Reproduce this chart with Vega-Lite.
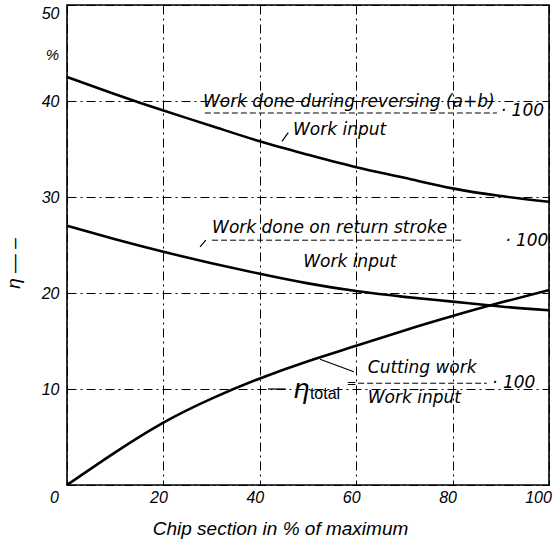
{
  "$schema": "https://vega.github.io/schema/vega-lite/v6.json",
  "autosize": {"type": "none"},
  "width": 482,
  "height": 480,
  "padding": {"left": 67, "top": 5, "right": 5, "bottom": 58},
  "background": "white",
  "config": {
    "view": {"stroke": "black", "strokeWidth": 1.6},
    "font": "Liberation Sans",
    "text": {"font": "DejaVu Sans", "fontStyle": "italic", "color": "black"}
  },
  "datasets": {
    "curves": [
      {"x": 0, "y": 42.5, "series": "reversing"},
      {"x": 10, "y": 40.7, "series": "reversing"},
      {"x": 20, "y": 39.0, "series": "reversing"},
      {"x": 30, "y": 37.4, "series": "reversing"},
      {"x": 40, "y": 35.8, "series": "reversing"},
      {"x": 50, "y": 34.4, "series": "reversing"},
      {"x": 60, "y": 33.1, "series": "reversing"},
      {"x": 70, "y": 32.0, "series": "reversing"},
      {"x": 80, "y": 30.9, "series": "reversing"},
      {"x": 90, "y": 30.1, "series": "reversing"},
      {"x": 100, "y": 29.5, "series": "reversing"},
      {"x": 0, "y": 27.0, "series": "return"},
      {"x": 10, "y": 25.6, "series": "return"},
      {"x": 20, "y": 24.3, "series": "return"},
      {"x": 30, "y": 23.1, "series": "return"},
      {"x": 40, "y": 22.0, "series": "return"},
      {"x": 50, "y": 21.0, "series": "return"},
      {"x": 60, "y": 20.2, "series": "return"},
      {"x": 70, "y": 19.6, "series": "return"},
      {"x": 80, "y": 19.1, "series": "return"},
      {"x": 90, "y": 18.6, "series": "return"},
      {"x": 100, "y": 18.2, "series": "return"},
      {"x": 0, "y": 0.0, "series": "total"},
      {"x": 10, "y": 3.4, "series": "total"},
      {"x": 20, "y": 6.5, "series": "total"},
      {"x": 30, "y": 9.0, "series": "total"},
      {"x": 40, "y": 11.1, "series": "total"},
      {"x": 50, "y": 12.9, "series": "total"},
      {"x": 60, "y": 14.5, "series": "total"},
      {"x": 70, "y": 16.1, "series": "total"},
      {"x": 80, "y": 17.6, "series": "total"},
      {"x": 90, "y": 19.0, "series": "total"},
      {"x": 100, "y": 20.3, "series": "total"}
    ],
    "fractions": [
      {"x": 28.6, "x2": 89.2, "y": 38.75},
      {"x": 30.1, "x2": 82.0, "y": 25.5},
      {"x": 60.4, "x2": 87.1, "y": 10.6}
    ],
    "leaders": [
      {"x": 44.6, "x2": 45.9, "y": 35.8, "y2": 36.7},
      {"x": 27.6, "x2": 28.8, "y": 24.8, "y2": 25.5},
      {"x": 41.7, "x2": 45.4, "y": 10.0, "y2": 10.0},
      {"x": 52.5, "x2": 59.5, "y": 13.1, "y2": 11.8}
    ],
    "notes": [
      {"x": 28.2, "y": 39.9, "label": "Work done during reversing (a+b)"},
      {"x": 90.0, "y": 39.0, "label": "· 100"},
      {"x": 46.9, "y": 37.0, "label": "Work input"},
      {"x": 30.1, "y": 26.8, "label": "Work done on return stroke"},
      {"x": 90.9, "y": 25.4, "label": "· 100"},
      {"x": 49.0, "y": 23.2, "label": "Work input"},
      {"x": 62.4, "y": 12.2, "label": "Cutting work"},
      {"x": 62.4, "y": 9.1, "label": "Work input"},
      {"x": 88.2, "y": 10.6, "label": "· 100"}
    ],
    "eta": [{"x": 46.9, "y": 9.9, "label": "η"}],
    "sub": [{"x": 50.4, "y": 9.5, "label": "total"}],
    "eq": [{"x": 58.0, "y": 10.6, "label": "="}],
    "pct": [{"x": -3.0, "y": 44.8, "label": "%"}]
  },
  "layer": [
    {
      "data": {"name": "curves"},
      "mark": {"type": "line", "color": "black", "strokeWidth": 2.6, "interpolate": "natural"},
      "encoding": {
        "x": {
          "field": "x", "type": "quantitative",
          "scale": {"domain": [0, 100], "nice": false},
          "axis": {
            "values": [0, 20, 40, 60, 80, 100],
            "title": "Chip section in % of maximum",
            "titleFont": "Liberation Sans", "titleFontStyle": "italic", "titleFontWeight": "normal",
            "titleFontSize": 19, "titleColor": "black",
            "titleX": 213, "titleY": 43, "titleBaseline": "middle", "titleAlign": "center",
            "labelFont": "Liberation Sans", "labelFontStyle": "italic", "labelFontSize": 16,
            "labelColor": "black", "labelPadding": 4, "labelFlush": false,
            "labelOffset": {"expr": "datum.value == 0 ? -13 : datum.value == 100 ? -11 : -5"},
            "ticks": false, "domain": false,
            "grid": true, "gridColor": "black", "gridOpacity": 1, "gridWidth": 1,
            "gridDash": [9, 4, 2, 4]
          }
        },
        "y": {
          "field": "y", "type": "quantitative",
          "scale": {"domain": [0, 50], "nice": false},
          "axis": {
            "values": [0, 10, 20, 30, 40, 50],
            "labelExpr": "datum.value == 0 ? '' : datum.label",
            "title": "η — –",
            "titleFont": "Liberation Sans", "titleFontStyle": "italic", "titleFontWeight": "normal",
            "titleFontSize": 19, "titleColor": "black",
            "titleX": -54, "titleY": 258, "titleBaseline": "middle", "titleAlign": "center", "titleAngle": -90,
            "labelFont": "Liberation Sans", "labelFontStyle": "italic", "labelFontSize": 16,
            "labelColor": "black", "labelPadding": 8, "labelFlush": false,
            "labelBaseline": {"expr": "datum.value == 50 ? 'top' : 'middle'"},
            "ticks": false, "domain": false,
            "grid": true, "gridColor": "black", "gridOpacity": 1, "gridWidth": 1,
            "gridDash": [9, 4, 2, 4]
          }
        },
        "detail": {"field": "series"}
      }
    },
    {
      "data": {"name": "fractions"},
      "mark": {"type": "rule", "color": "black", "strokeWidth": 1, "strokeDash": [6, 3]},
      "encoding": {
        "x": {"field": "x", "type": "quantitative"},
        "x2": {"field": "x2"},
        "y": {"field": "y", "type": "quantitative"}
      }
    },
    {
      "data": {"name": "leaders"},
      "mark": {"type": "rule", "color": "black", "strokeWidth": 1.2},
      "encoding": {
        "x": {"field": "x", "type": "quantitative"},
        "x2": {"field": "x2"},
        "y": {"field": "y", "type": "quantitative"},
        "y2": {"field": "y2"}
      }
    },
    {
      "data": {"name": "notes"},
      "mark": {"type": "text", "align": "left", "baseline": "middle", "fontSize": 17},
      "encoding": {
        "x": {"field": "x", "type": "quantitative"},
        "y": {"field": "y", "type": "quantitative"},
        "text": {"field": "label"}
      }
    },
    {
      "data": {"name": "eta"},
      "mark": {"type": "text", "align": "left", "baseline": "middle", "fontSize": 26},
      "encoding": {
        "x": {"field": "x", "type": "quantitative"},
        "y": {"field": "y", "type": "quantitative"},
        "text": {"field": "label"}
      }
    },
    {
      "data": {"name": "sub"},
      "mark": {"type": "text", "align": "left", "baseline": "middle", "fontSize": 16, "fontStyle": "normal", "font": "Liberation Sans"},
      "encoding": {
        "x": {"field": "x", "type": "quantitative"},
        "y": {"field": "y", "type": "quantitative"},
        "text": {"field": "label"}
      }
    },
    {
      "data": {"name": "eq"},
      "mark": {"type": "text", "align": "left", "baseline": "middle", "fontSize": 12, "fontStyle": "normal"},
      "encoding": {
        "x": {"field": "x", "type": "quantitative"},
        "y": {"field": "y", "type": "quantitative"},
        "text": {"field": "label"}
      }
    },
    {
      "data": {"name": "pct"},
      "mark": {"type": "text", "align": "center", "baseline": "middle", "fontSize": 15, "font": "Liberation Sans"},
      "encoding": {
        "x": {"field": "x", "type": "quantitative"},
        "y": {"field": "y", "type": "quantitative"},
        "text": {"field": "label"}
      }
    }
  ]
}
